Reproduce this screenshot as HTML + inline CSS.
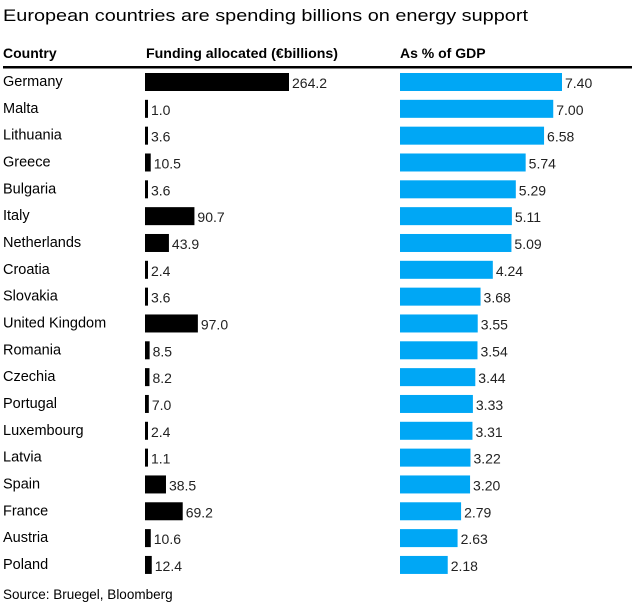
<!DOCTYPE html>
<html><head><meta charset="utf-8"><style>
body{margin:0;background:#fff;font-family:"Liberation Sans",Arial,sans-serif;color:#000}
#c{position:relative;width:632px;height:606px;overflow:hidden}
</style></head><body>
<div id="c">
<svg id="s" width="632" height="606">
<text x="3" y="21" font-size="16.5" textLength="525" lengthAdjust="spacingAndGlyphs" fill="#000">European countries are spending billions on energy support</text>
<text x="3" y="58" font-size="14" font-weight="bold">Country</text>
<text x="146" y="58" font-size="14" font-weight="bold" textLength="192" lengthAdjust="spacingAndGlyphs">Funding allocated (€billions)</text>
<text x="400" y="58" font-size="14" font-weight="bold">As % of GDP</text>
<rect x="3" y="66" width="629" height="2.5" fill="#000"/>
<text x="3" y="599" font-size="13.5">Source: Bruegel, Bloomberg</text>
<g id="rows"></g>
</svg>
</div>
<script>
const countries=["Germany","Malta","Lithuania","Greece","Bulgaria","Italy","Netherlands","Croatia","Slovakia","United Kingdom","Romania","Czechia","Portugal","Luxembourg","Latvia","Spain","France","Austria","Poland"];
const funding=[264.2,1.0,3.6,10.5,3.6,90.7,43.9,2.4,3.6,97.0,8.5,8.2,7.0,2.4,1.1,38.5,69.2,10.6,12.4];
const gdpPct=[7.40,7.00,6.58,5.74,5.29,5.11,5.09,4.24,3.68,3.55,3.54,3.44,3.33,3.31,3.22,3.20,2.79,2.63,2.18];
const NS="http://www.w3.org/2000/svg";
const g=document.getElementById('rows');
const fx=v=>Math.max(3,v*144/264.2);
const gx=v=>v*162/7.40;
const rowY=i=>73+i*26.83;
function mk(t,a){const e=document.createElementNS(NS,t);for(const k in a)e.setAttribute(k,a[k]);g.appendChild(e);return e;}
countries.forEach((c,i)=>{
 const y=rowY(i);
 const t=mk('text',{x:3,y:y+13,'font-size':14.5});t.textContent=c;
 
 
 const w=fx(funding[i]);
 const b=mk('rect',{x:145,y:y,width:w,height:18,fill:'#000'});
 
 
 const ft=mk('text',{x:145+w+3,y:y+15,'font-size':14,fill:'#222'});ft.textContent=funding[i].toFixed(1);
 
 
 const w2=gx(gdpPct[i]);
 const b2=mk('rect',{x:400,y:y,width:w2,height:18,fill:'#00a7f5'});
 
 
 const gt=mk('text',{x:400+w2+3,y:y+15,'font-size':14,fill:'#222'});gt.textContent=gdpPct[i].toFixed(2);
 
 
});
</script>
</body></html>
